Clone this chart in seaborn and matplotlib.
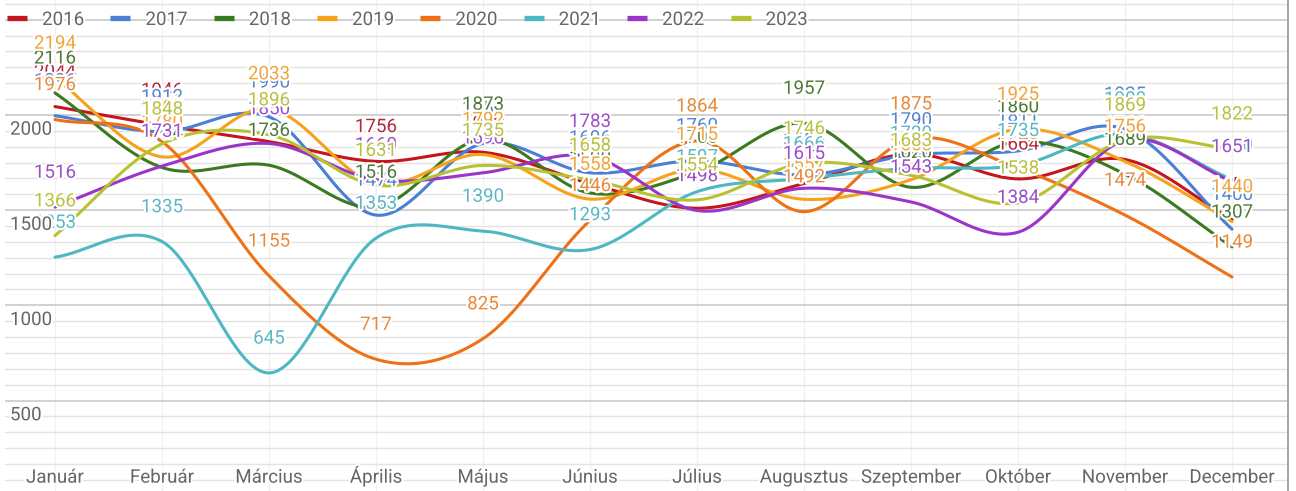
import numpy as np
import pandas as pd
import matplotlib
matplotlib.use("Agg")
import matplotlib.pyplot as plt
import matplotlib.patheffects as pe
import matplotlib.transforms as mtransforms
from matplotlib.lines import Line2D
from matplotlib.ticker import MultipleLocator
import seaborn as sns

# ---- data -------------------------------------------------------------
months = ["Január", "Február", "Március", "Április", "Május", "Június",
          "Július", "Augusztus", "Szeptember", "Október", "November", "December"]
years = ["2016", "2017", "2018", "2019", "2020", "2021", "2022", "2023"]

v2016 = [2044, 1946, 1860, 1756, 1804, 1640, 1510, 1640, 1795, 1664, 1766, 1450]
v2017 = [1996, 1912, 1990, 1474, 1850, 1696, 1760, 1685, 1790, 1811, 1925, 1400]
v2018 = [2116, 1724, 1736, 1516, 1873, 1590, 1700, 1957, 1620, 1860, 1689, 1307]
v2019 = [2194, 1780, 2033, 1640, 1792, 1558, 1715, 1557, 1660, 1925, 1756, 1440]
v2020 = [1976, 1860, 1155, 717, 825, 1446, 1864, 1492, 1875, 1720, 1474, 1149]
v2021 = [1253, 1335, 645, 1353, 1390, 1293, 1597, 1666, 1720, 1735, 1900, 1660]
v2022 = [1516, 1731, 1850, 1660, 1696, 1783, 1498, 1615, 1543, 1384, 1867, 1651]
v2023 = [1366, 1848, 1896, 1631, 1735, 1658, 1554, 1746, 1683, 1538, 1869, 1822]

series = dict(zip(years, [v2016, v2017, v2018, v2019, v2020, v2021, v2022, v2023]))

line_colors = ["#c4161c", "#4a7fd6", "#3b7a1f", "#f6a21a",
               "#ef7116", "#4db8c4", "#9b35c8", "#b8c230"]
text_colors = ["#b5283a", "#5684d0", "#4d7a35", "#f0a53c",
               "#e88a3b", "#5bb8c2", "#9b4fc9", "#b9c140"]

y_labels = [500, 1000, 1500, 2000]


# ---- smooth curve through the monthly points (cubic Hermite) ----------
def smooth_curve(vals, n=40):
    p = np.asarray(vals, dtype=float)
    m = np.empty_like(p)
    m[1:-1] = (p[2:] - p[:-2]) / 2.0
    m[0] = p[1] - p[0]
    m[-1] = p[-1] - p[-2]
    xs, ys = [], []
    for i in range(len(p) - 1):
        t = np.linspace(0, 1, n, endpoint=(i == len(p) - 2))
        h00 = 2 * t**3 - 3 * t**2 + 1
        h10 = t**3 - 2 * t**2 + t
        h01 = -2 * t**3 + 3 * t**2
        h11 = t**3 - t**2
        ys.append(h00 * p[i] + h10 * m[i] + h01 * p[i + 1] + h11 * m[i + 1])
        xs.append(i + t)
    return np.concatenate(xs), np.concatenate(ys)


frames = []
for yr in years:
    sx, sy = smooth_curve(series[yr])
    frames.append(pd.DataFrame({"x": sx, "value": sy, "year": yr}))
curves = pd.concat(frames, ignore_index=True)

# ---- figure -------------------------------------------------------------
sns.set_theme(style="white")
plt.rcParams["font.family"] = ["Roboto", "DejaVu Sans"]

W, H = 1296, 491
fig = plt.figure(figsize=(W / 100, H / 100), dpi=100)
fig.patch.set_facecolor("white")
ax = fig.add_axes([5 / W, 0, 1283 / W, 1])

sns.lineplot(data=curves, x="x", y="value", hue="year", hue_order=years,
             palette=line_colors, linewidth=2.2, estimator=None, sort=False,
             legend=False, ax=ax, zorder=3)

ax.set_xlim(-0.467, 11.523)
ax.set_ylim(24.9, 2603.7)

# grid
ax.yaxis.set_major_locator(MultipleLocator(500))
ax.yaxis.set_minor_locator(MultipleLocator(500 / 6))
ax.set_xticks(range(len(months)))
ax.grid(which="major", axis="y", color="#c9c9c9", linewidth=1.2)
ax.grid(which="minor", axis="y", color="#e3e3e3", linewidth=1.0)
ax.grid(which="major", axis="x", color="#f1f1f1", linewidth=1.0)
ax.set_axisbelow(True)
ax.tick_params(which="both", length=0, labelleft=False, labelbottom=False)
ax.set_xlabel("")
ax.set_ylabel("")
for side in ["top", "left", "bottom"]:
    ax.spines[side].set_visible(False)
ax.spines["right"].set_color("#9e9e9e")
ax.spines["right"].set_linewidth(1.3)

halo = [pe.withStroke(linewidth=3, foreground="white")]
FS = 13.5

# value labels above every point
for yr, tc in zip(years, text_colors):
    for i, v in enumerate(series[yr]):
        ax.annotate(str(v), xy=(i, v), xytext=(0, 21.1), textcoords="offset points",
                    ha="center", va="baseline", fontsize=FS, color=tc,
                    path_effects=halo, zorder=6, annotation_clip=False)

# y axis labels drawn inside the plot, just under their grid line
for v in y_labels:
    ax.annotate(str(v), xy=(0, v), xycoords=("axes fraction", "data"),
                xytext=(3.6, -14.2), textcoords="offset points",
                ha="left", va="baseline", fontsize=FS, color="#666666",
                path_effects=halo, zorder=8)

# month labels
trans = mtransforms.blended_transform_factory(ax.transData, ax.transAxes)
for i, m in enumerate(months):
    ax.text(i, 1 - 482.7 / H, m, transform=trans, ha="center", va="baseline",
            fontsize=FS, color="#666666", path_effects=halo, zorder=8)

# legend
handles = [Line2D([], [], color=c, linewidth=3.8, solid_capstyle="butt")
           for c in line_colors]
leg = ax.legend(handles, years, ncol=len(years), loc="center left",
                bbox_to_anchor=(2 / 1283, 1 - 20 / H), frameon=False,
                fontsize=FS, handlelength=1.07, handletextpad=0.8,
                columnspacing=1.39, borderaxespad=0, borderpad=0)
for t in leg.get_texts():
    t.set_color("#666666")
    t.set_path_effects(halo)

fig.savefig("out.png", dpi=100, facecolor="white")
